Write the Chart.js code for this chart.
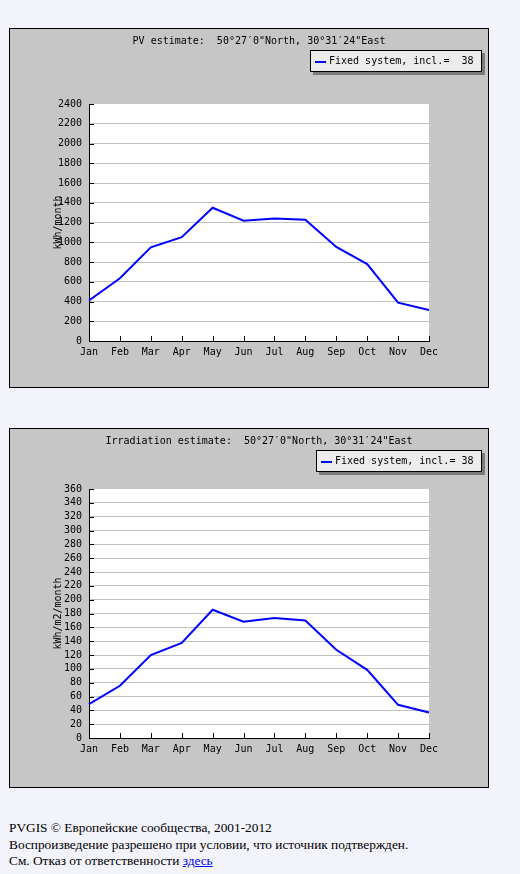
<!DOCTYPE html>
<html>
<head>
<meta charset="utf-8">
<script src="https://cdn.jsdelivr.net/npm/chart.js@4/dist/chart.umd.min.js"></script>
<style>
  html, body { margin: 0; padding: 0; background: #f3f3fc; }
  body { width: 520px; height: 874px; position: relative; overflow: hidden; }
  .box {
    position: absolute; left: 9px; width: 478px; height: 358px;
    border: 1px solid #000; background: #c6c6c6;
  }
  .box canvas { position: absolute; left: 0; top: 0; }
  .legend {
    position: absolute; height: 20px; border: 1px solid #000;
    background: #ececec; box-shadow: 3px 3px 0 #7a7a7a;
    font: 10px 'DejaVu Sans Mono', monospace; color: #000;
    white-space: pre; line-height: 20px;
  }
  .legend i {
    position: absolute; left: 4px; top: 10px; width: 11px; height: 2px; background: #0000ff;
  }
  .legend span { position: absolute; left: 18px; top: 0; }
  .foot {
    position: absolute; left: 9px; top: 820px;
    font: 13.33px 'Liberation Serif', 'Times New Roman', serif; color: #000; line-height: 16.5px;
  }
  .foot a { color: #0000ee; }
</style>
</head>
<body>

<div class="box" id="box1" style="top:28px">
  <canvas id="pv" width="478" height="358"></canvas>
  <div class="legend" id="leg1" style="left:300px; top:21px; width:170px"></div>
</div>

<div class="box" id="box2" style="top:428px">
  <canvas id="irr" width="478" height="358"></canvas>
  <div class="legend" id="leg2" style="left:306px; top:21px; width:164px"></div>
</div>

<div class="foot">
  PVGIS © Европейские сообщества, 2001-2012<br>
  Воспроизведение разрешено при условии, что источник подтвержден.<br>
  См. Отказ от ответственности <a href="#">здесь</a>
</div>

<script>
// ── data ──────────────────────────────────────────────
const months = ['Jan', 'Feb', 'Mar', 'Apr', 'May', 'Jun', 'Jul', 'Aug', 'Sep', 'Oct', 'Nov', 'Dec'];

const pvValues  = [410, 635, 948, 1052, 1349, 1218, 1241, 1228, 952, 779, 388, 314];
const irrValues = [49, 75.5, 120, 137.5, 185.5, 168, 173.5, 170, 127.5, 98.5, 48, 37];

const pvTitle   = 'PV estimate:  50°27′0"North, 30°31′24"East';
const irrTitle  = 'Irradiation estimate:  50°27′0"North, 30°31′24"East';
const pvLabel   = 'Fixed system, incl.=  38';
const irrLabel  = 'Fixed system, incl.= 38';
const pvUnit    = 'kWh/month';
const irrUnit   = 'kWh/m2/month';

const pvAxis  = { min: 0, max: 2400, step: 200 };
const irrAxis = { min: 0, max: 360, step: 20 };

// ── look ──────────────────────────────────────────────
Chart.defaults.font.family = "'DejaVu Sans Mono', monospace";
Chart.defaults.font.size = 10;
Chart.defaults.color = '#000';

const plotBg = {
  id: 'plotBg',
  beforeDraw(chart) {
    const { ctx, chartArea: a } = chart;
    ctx.save();
    ctx.fillStyle = '#fff';
    ctx.fillRect(a.left, a.top, a.right - a.left, a.bottom - a.top);
    ctx.restore();
  }
};

// short tick marks pointing into the plot
const innerTicks = {
  id: 'innerTicks',
  afterDatasetsDraw(chart) {
    const { ctx, scales: { x, y } } = chart;
    ctx.save();
    ctx.strokeStyle = '#000';
    ctx.lineWidth = 1;
    ctx.beginPath();
    y.ticks.forEach((t, i) => {
      const py = Math.round(y.getPixelForTick(i)) + 0.5;
      ctx.moveTo(x.left, py); ctx.lineTo(x.left + 5, py);
    });
    x.ticks.forEach((t, i) => {
      const px = Math.round(x.getPixelForTick(i)) + 0.5;
      ctx.moveTo(px, y.bottom); ctx.lineTo(px, y.bottom - 5);
    });
    ctx.stroke();
    ctx.restore();
  }
};

function makeChart(id, legendId, title, label, unit, values, axis, titleGap, xHeight) {
  const chart = new Chart(document.getElementById(id), {
    type: 'line',
    data: {
      labels: months,
      datasets: [{
        label,
        data: values,
        borderColor: '#0000ff',
        borderWidth: 2,
        pointRadius: 0,
        tension: 0,
        fill: false,
      }],
    },
    options: {
      responsive: false,
      animation: false,
      layout: { padding: { left: 0, right: 59, top: 0, bottom: 0 } },
      plugins: {
        legend: { display: false },
        tooltip: { enabled: false },
        title: {
          display: true,
          text: title,
          fullSize: false,
          color: '#000',
          font: { size: 10, weight: 'normal' },
          padding: { top: 6, bottom: titleGap },
        },
      },
      scales: {
        x: {
          offset: false,
          grid: { display: false },
          border: { color: '#000', width: 1 },
          ticks: { autoSkip: false, maxRotation: 0, padding: -3 },
          afterFit: s => { s.height = xHeight; },
        },
        y: {
          min: axis.min, max: axis.max,
          grid: {
            drawTicks: false,
            lineWidth: 1,
            color: c => (c.tick && (c.tick.value === axis.min || c.tick.value === axis.max)) ? 'rgba(0,0,0,0)' : '#c0c0c0',
          },
          border: { color: '#000', width: 1 },
          ticks: { stepSize: axis.step, padding: 7, autoSkip: false, callback: v => String(v) },
          title: { display: true, text: unit, color: '#000', font: { size: 10 }, padding: { top: 42, bottom: 0 } },
          afterFit: s => { s.width = 79; },
        },
      },
    },
    plugins: [plotBg, innerTicks],
  });

  // legend box built from the dataset
  const leg = document.getElementById(legendId);
  chart.data.datasets.forEach(ds => {
    const i = document.createElement('i');
    const sp = document.createElement('span');
    sp.textContent = ds.label;
    leg.appendChild(i);
    leg.appendChild(sp);
  });
  return chart;
}

makeChart('pv', 'leg1', pvTitle, pvLabel, pvUnit, pvValues, pvAxis, 57, 46);
makeChart('irr', 'leg2', irrTitle, irrLabel, irrUnit, irrValues, irrAxis, 42, 49);
</script>
</body>
</html>
